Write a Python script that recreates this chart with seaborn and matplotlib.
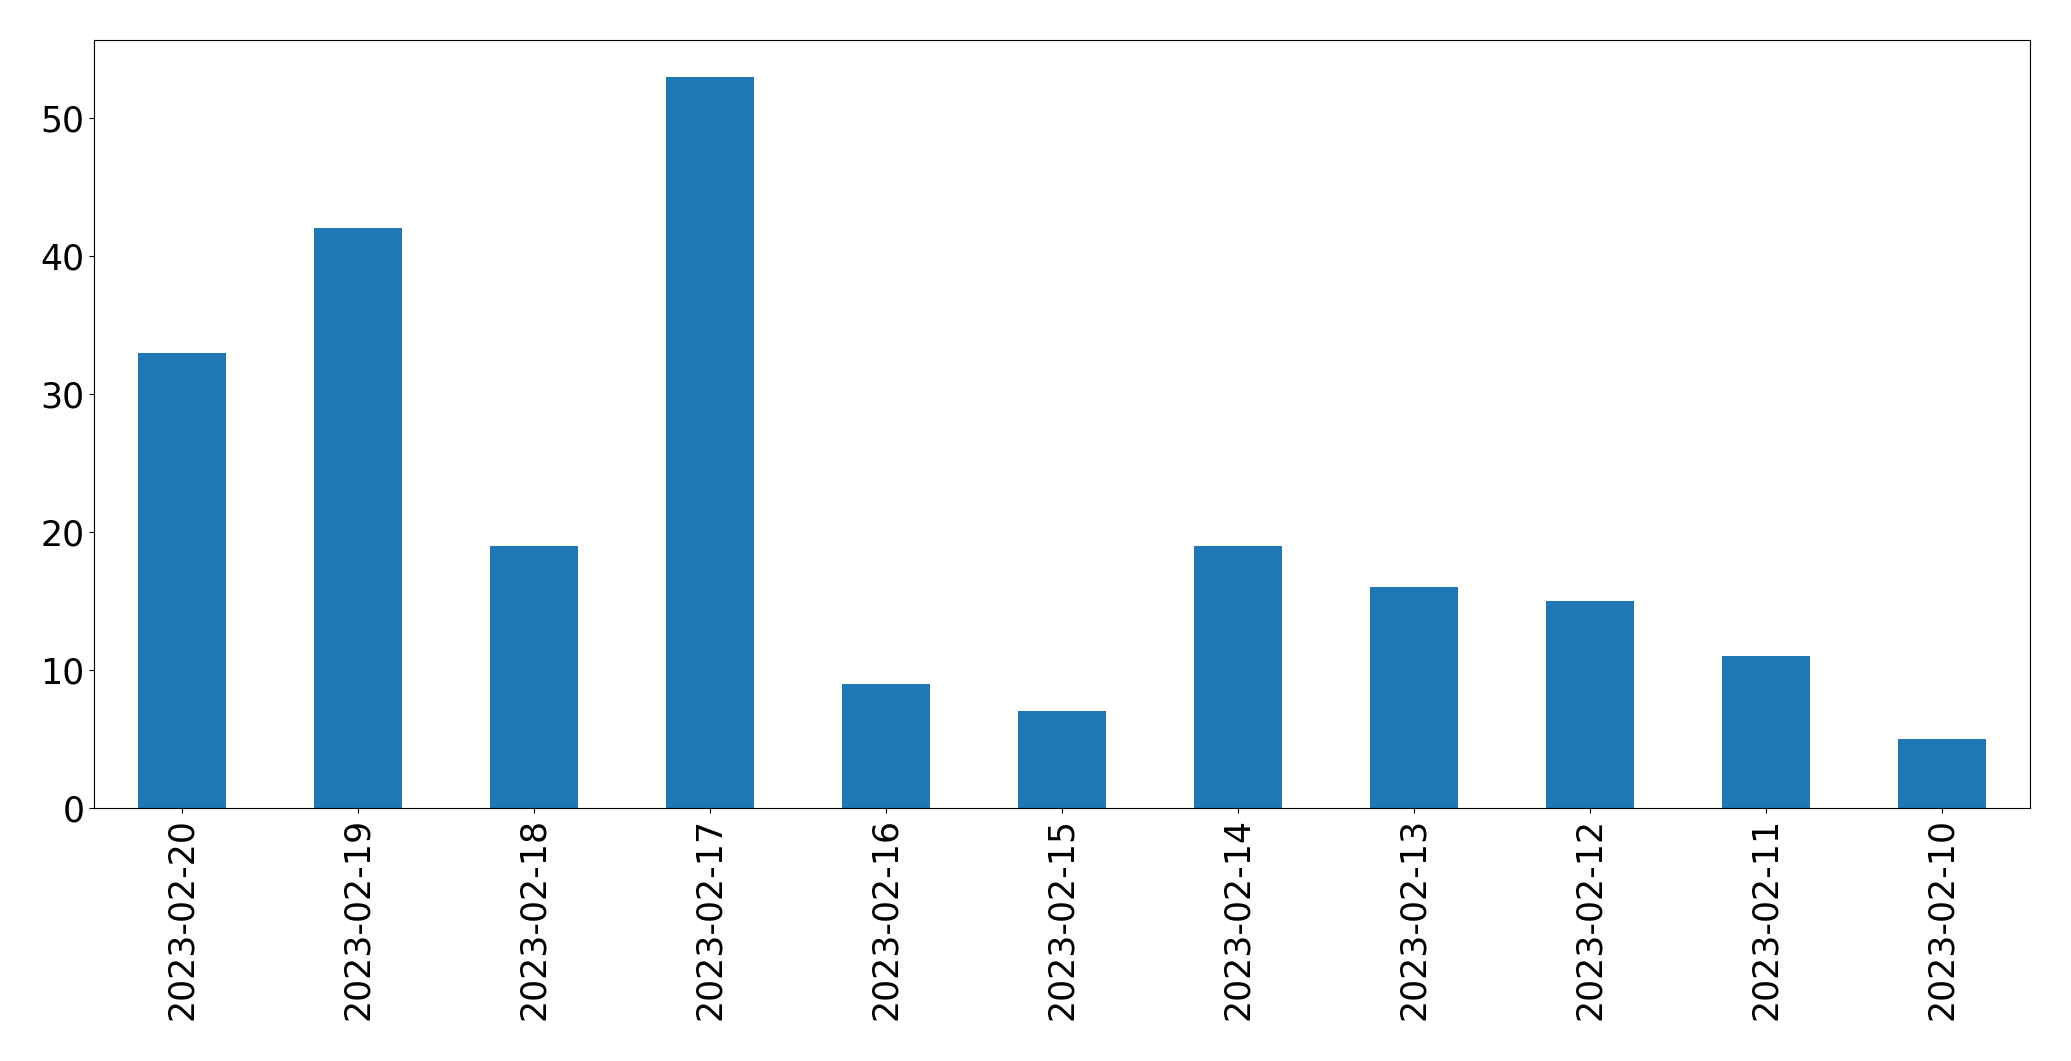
import matplotlib
matplotlib.use("Agg")
import matplotlib.pyplot as plt
import seaborn as sns
import pandas as pd

dates = ["2023-02-20", "2023-02-19", "2023-02-18", "2023-02-17", "2023-02-16",
         "2023-02-15", "2023-02-14", "2023-02-13", "2023-02-12", "2023-02-11",
         "2023-02-10"]
counts = [33, 42, 19, 53, 9, 7, 19, 16, 15, 11, 5]

sns.set_style("ticks")
plt.rcParams['font.family'] = ['DejaVu Sans']
plt.rcParams['text.color'] = 'black'
plt.rcParams['xtick.color'] = 'black'
plt.rcParams['ytick.color'] = 'black'
plt.rcParams['axes.edgecolor'] = 'black'

df = pd.DataFrame({"date": dates, "count": counts})

fig = plt.figure(figsize=(20.71, 10.61), dpi=100)
ax = fig.add_axes([94/2071, 1 - 808/1061, (2030-94)/2071, (808-40)/1061])
sns.barplot(data=df, x="date", y="count", color="#1f77b4", saturation=1,
            width=0.5, ax=ax, order=dates, linewidth=0, edgecolor="none")
ax.set_xlim(-0.5, len(dates) - 0.5)
ax.set_ylim(0, 55.65)
ax.set_xlabel("")
ax.set_ylabel("")
ax.tick_params(axis="both", labelsize=25, length=3.5, width=0.8,
               color="black", labelcolor="black")
ax.tick_params(axis="x", labelrotation=90)
for s in ax.spines.values():
    s.set_visible(True)
    s.set_color("black")
    s.set_linewidth(0.8)
fig.savefig("out.png", dpi=100)
